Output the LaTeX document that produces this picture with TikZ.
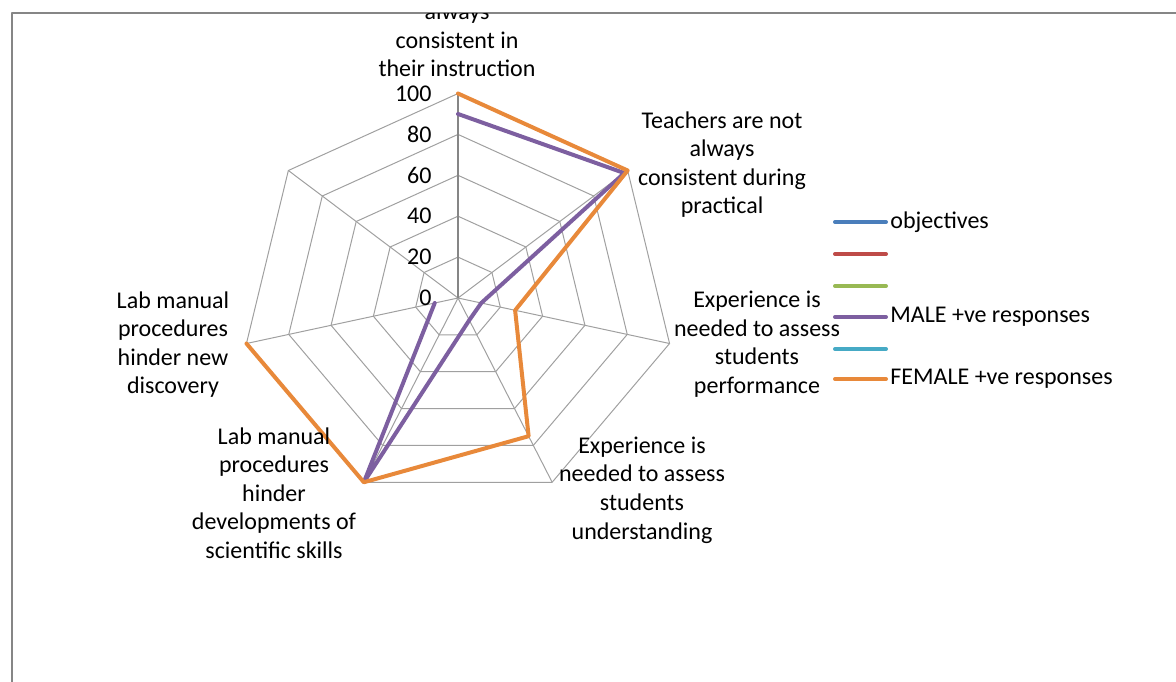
\documentclass[tikz,border=0pt]{standalone}
\usepackage{fontspec}
\setmainfont{Carlito}
\usepackage{tikz}
\definecolor{framegray}{HTML}{868686}
\definecolor{gridgray}{HTML}{A0A0A0}
\definecolor{serblue}{HTML}{4A7EBB}
\definecolor{serred}{HTML}{BE4B48}
\definecolor{sergreen}{HTML}{98B954}
\definecolor{serpurple}{HTML}{7D5FA0}
\definecolor{serteal}{HTML}{46AAC5}
\definecolor{serorange}{HTML}{E8893A}

\begin{document}
\begin{tikzpicture}[x=0.5pt,y=-0.5pt,line join=round]
    \tikzstyle{grid} = [draw=gridgray, line width=0.5pt]
    \tikzstyle{valaxis} = [draw=framegray, line width=0.8pt]
    \tikzstyle{series} = [line width=2pt, line cap=round]
    \tikzstyle{lbl} = [align=center, inner sep=0pt, font=\fontsize{12pt}{14.3pt}\selectfont]
    \tikzstyle{ticklbl} = [anchor=east, inner sep=0pt, font=\fontsize{12pt}{14.3pt}\selectfont]
    \tikzstyle{keylbl} = [anchor=west, inner sep=0pt, font=\fontsize{12pt}{14.3pt}\selectfont]
    \useasboundingbox (0,0) rectangle (1176,681);
    \clip (0,0) rectangle (1176,681);
    %Chart frame
    \draw[framegray, line width=1pt] (1190,12.5) -- (11.5,12.5) -- (11.5,700);
    %Radar grid and axes
    \begin{scope}[shift={(458,298)}, x=1.085pt, y=1.0225pt]
        \coordinate (c) at (0,0);
        \foreach \k in {1,...,7}
            \coordinate (ax\k) at ({90-(\k-1)*360/7}:100);
        \foreach \r in {20,40,...,100}
            \draw[grid] (90:\r) \foreach \k in {1,...,6} { -- ({90-\k*360/7}:\r) } -- cycle;
        \foreach \k in {2,...,7}
            \draw[grid] (c) -- (ax\k);
        \draw[valaxis] (c) -- (ax1);
        \foreach \v in {0,20,...,100}
            \node[ticklbl] (tick\v) at (-12,\v) {\v};
        %Data points
        \foreach \k/\v in {1/90,2/98,3/11,4/12,5/100,6/11}
            \coordinate (male\k) at ({90-(\k-1)*360/7}:\v);
        \foreach \k/\v in {1/100,2/100,3/27,4/75,5/100,6/100}
            \coordinate (fem\k) at ({90-(\k-1)*360/7}:\v);
        \draw[series, serpurple] (male1) -- (male2) -- (male3) -- (male4) -- (male5) -- (male6);
        \draw[series, serorange] (fem1) -- (fem2) -- (fem3) -- (fem4) -- (fem5) -- (fem6);
    \end{scope}
    %Category labels
    \begin{scope}
        \clip (12.5,13.2) rectangle (1176,681);
        \node[lbl] (cat1) at (457,40) {always\\consistent in\\their instruction};
    \end{scope}
    \node[lbl] (cat2) at (722,164.5) {Teachers are not\\always\\consistent during\\practical};
    \node[lbl] (cat3) at (757,344) {Experience is\\needed to assess\\students\\performance};
    \node[lbl] (cat4) at (642,490) {Experience is\\needed to assess\\students\\understanding};
    \node[lbl] (cat5) at (274,493) {Lab manual\\procedures\\hinder\\developments of\\scientific skills};
    \node[lbl] (cat6) at (173,344.5) {Lab manual\\procedures\\hinder new\\discovery};
    %Legend
    \foreach \i/\y/\c/\t in {1/222/serblue/objectives, 2/254/serred/, 3/286/sergreen/,
                            4/317/serpurple/MALE +ve responses, 5/349/serteal/,
                            6/379/serorange/FEMALE +ve responses} {
        \coordinate (key\i) at (835,\y);
        \node[keylbl] (keylbl\i) at (890,\y) {\t};
        \draw[series, \c] (key\i) -- ([xshift=-2]keylbl\i.west);
    }
\end{tikzpicture}
\end{document}
